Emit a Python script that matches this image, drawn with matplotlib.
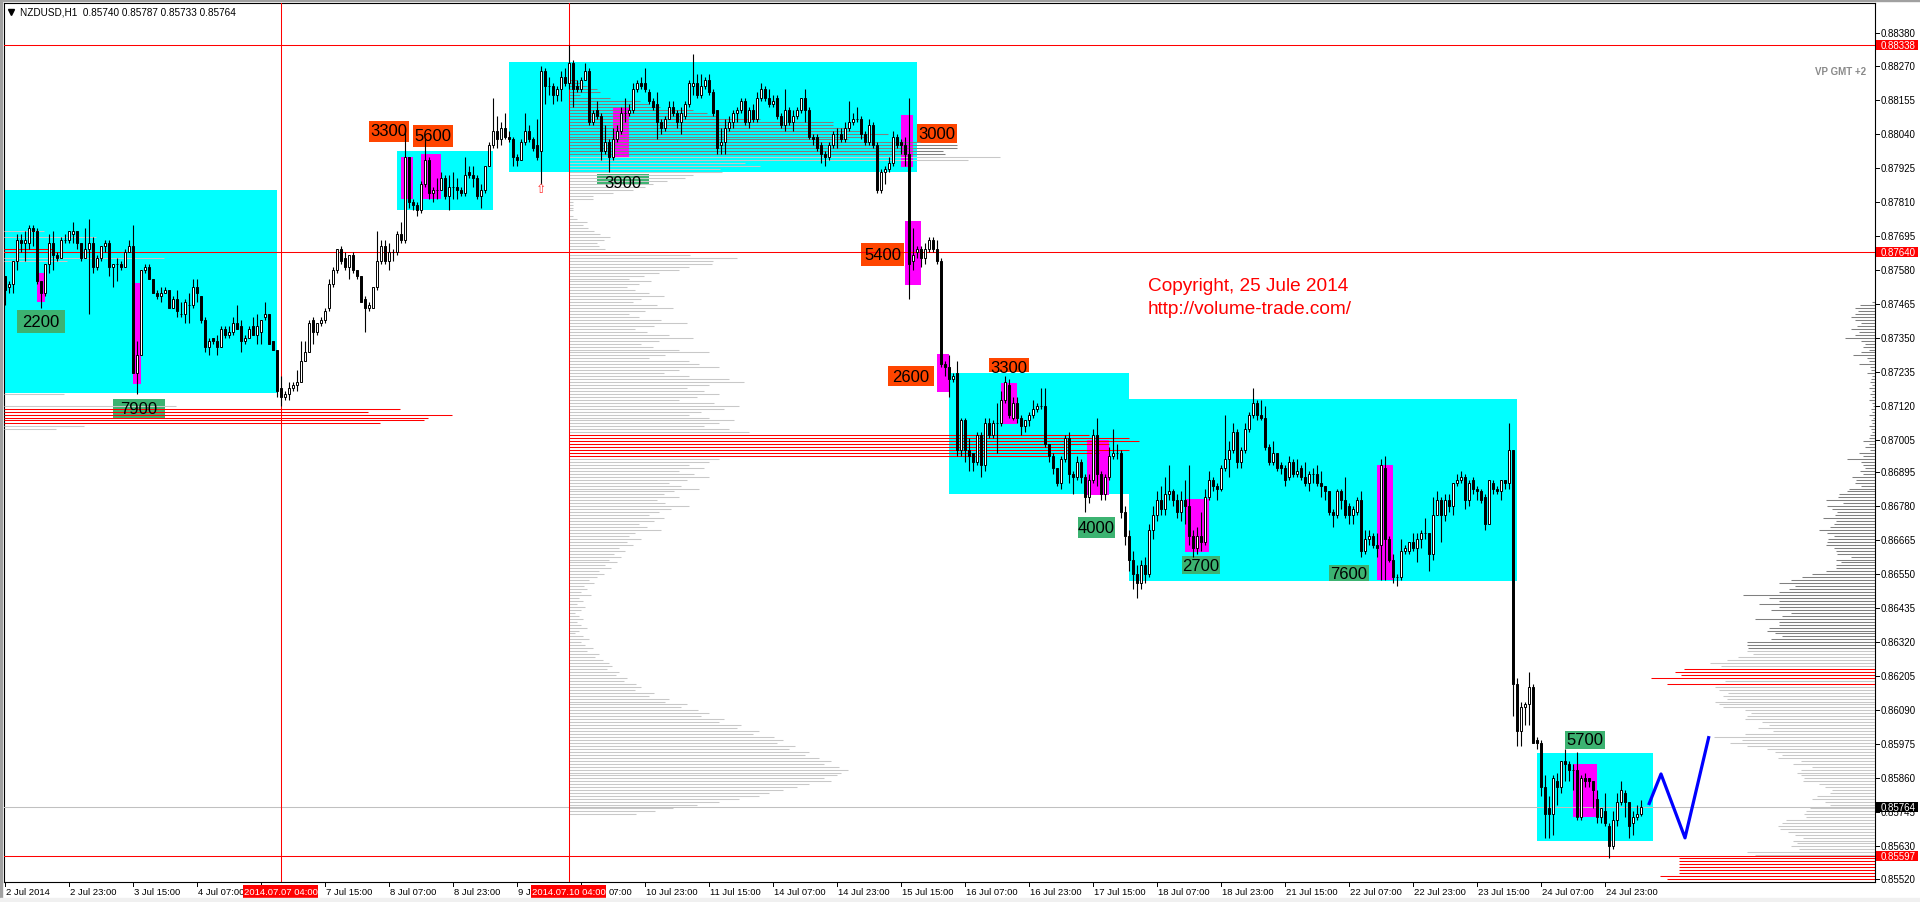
import matplotlib
matplotlib.use("Agg")
import matplotlib.pyplot as plt
from matplotlib.patches import Rectangle
import numpy as np

# ---------------- DATA (prices in pips, 1 pip = 0.0001) ----------------
title_text = "NZDUSD,H1  0.85740 0.85787 0.85733 0.85764"

open_p = [8756,8752,8753,8761,8768,8767,8767,8772,8771,8754,8750,8760,8767,8763,8762,8768,8768,8770,8771,8767,
8762,8765,8767,8759,8762,8766,8767,8759,8760,8760,8759,8764,8766,8723,8729,8758,8759,8755,8750,8749,
8750,8751,8745,8748,8743,8743,8746,8746,8752,8749,8741,8732,8735,8734,8732,8738,8736,8737,8740,8739,
8734,8735,8739,8736,8737,8742,8743,8734,8731,8718,8715,8716,8718,8719,8720,8727,8730,8741,8737,8740,
8741,8745,8753,8758,8765,8762,8759,8763,8758,8756,8748,8745,8745,8752,8761,8766,8761,8764,8764,8770,
8768,8796,8781,8780,8778,8787,8795,8784,8785,8785,8789,8783,8786,8786,8785,8784,8791,8790,8789,8783,
8785,8793,8800,8805,8802,8806,8803,8802,8796,8795,8801,8805,8802,8800,8798,8825,8820,8820,8817,8819,
8823,8821,8828,8820,8819,8822,8825,8808,8812,8810,8798,8801,8796,8802,8805,8811,8811,8812,8819,8821,
8821,8818,8815,8814,8808,8806,8809,8813,8811,8808,8810,8814,8820,8821,8817,8820,8822,8818,8812,8800,
8801,8806,8808,8811,8812,8815,8808,8812,8809,8816,8819,8816,8814,8816,8810,8807,8812,8808,8810,8812,
8816,8812,8803,8803,8800,8797,8796,8800,8804,8804,8802,8806,8808,8809,8809,8804,8801,8807,8800,8785,
8791,8792,8794,8803,8801,8800,8797,8761,8764,8765,8762,8765,8768,8765,8761,8726,8725,8721,8723,8697,
8707,8697,8696,8693,8702,8692,8706,8702,8706,8706,8714,8719,8708,8713,8708,8705,8707,8709,8711,8712,
8712,8699,8695,8691,8686,8694,8701,8689,8688,8693,8688,8681,8687,8702,8689,8682,8688,8695,8696,8696,
8676,8668,8660,8655,8652,8658,8655,8670,8675,8680,8677,8682,8683,8680,8676,8680,8678,8668,8664,8668,
8666,8681,8687,8685,8684,8691,8694,8697,8703,8693,8697,8704,8709,8713,8709,8708,8698,8693,8696,8692,
8691,8688,8693,8689,8691,8688,8686,8689,8689,8686,8685,8683,8676,8675,8683,8680,8678,8675,8676,8680,
8663,8667,8668,8665,8665,8691,8667,8660,8654,8654,8663,8663,8666,8664,8667,8669,8669,8662,8675,8680,
8675,8680,8678,8686,8687,8688,8680,8687,8684,8683,8681,8672,8686,8684,8683,8687,8686,8697,8618,8602,
8610,8611,8617,8599,8598,8583,8576,8574,8585,8583,8592,8591,8589,8589,8573,8586,8586,8585,8579,8573,
8575,8570,8563,8572,8578,8581,8578,8571,8573,8574.0]
high_p = [8756,8754,8761,8770,8770,8771,8773,8773,8772,8754,8760,8770,8771,8764,8769,8770,8771,8774,8771,8767,
8772,8775,8769,8763,8766,8768,8768,8760,8762,8761,8765,8768,8773,8734,8758,8760,8760,8755,8751,8752,
8752,8751,8749,8751,8747,8748,8750,8755,8755,8749,8742,8735,8735,8736,8739,8739,8739,8742,8746,8741,
8736,8739,8742,8743,8741,8747,8743,8734,8731,8722,8717,8720,8720,8724,8734,8734,8741,8742,8740,8742,
8745,8755,8759,8765,8766,8764,8763,8764,8758,8756,8749,8747,8752,8771,8768,8768,8767,8765,8771,8774,
8805,8796,8782,8781,8788,8802,8796,8786,8789,8791,8790,8790,8791,8789,8786,8796,8793,8793,8790,8787,
8793,8801,8816,8810,8808,8811,8805,8803,8797,8802,8811,8807,8803,8809,8827,8826,8823,8821,8820,8825,
8826,8834,8829,8822,8823,8828,8826,8812,8815,8811,8807,8802,8806,8807,8813,8816,8814,8821,8822,8823,
8826,8819,8816,8818,8809,8810,8815,8815,8812,8813,8815,8822,8831,8824,8824,8823,8824,8819,8812,8806,
8809,8810,8812,8813,8816,8816,8813,8814,8818,8821,8820,8819,8817,8817,8811,8819,8813,8812,8813,8816,
8819,8813,8804,8804,8801,8798,8801,8805,8806,8806,8808,8815,8811,8813,8810,8805,8809,8808,8801,8792,
8793,8796,8805,8804,8802,8803,8816,8772,8766,8766,8767,8769,8769,8768,8762,8727,8729,8723,8727,8708,
8708,8701,8696,8703,8703,8708,8708,8707,8713,8717,8722,8721,8715,8715,8709,8707,8710,8714,8713,8718,
8718,8699,8696,8691,8695,8702,8703,8690,8695,8694,8689,8689,8704,8708,8690,8689,8698,8704,8699,8697,
8678,8670,8663,8658,8660,8661,8672,8678,8683,8685,8688,8692,8684,8682,8683,8687,8692,8670,8671,8676,
8684,8690,8688,8686,8692,8709,8700,8706,8704,8698,8706,8710,8718,8714,8714,8712,8699,8700,8696,8693,
8692,8695,8694,8694,8692,8693,8690,8691,8692,8690,8685,8683,8677,8684,8684,8688,8679,8678,8681,8683,
8670,8670,8669,8669,8694,8695,8668,8662,8655,8667,8665,8666,8669,8669,8670,8674,8669,8681,8683,8681,
8682,8682,8686,8689,8690,8689,8687,8688,8685,8684,8682,8687,8687,8685,8687,8687,8706,8697,8620,8612,
8612,8622,8618,8600,8599,8587,8580,8587,8588,8592,8596,8592,8591,8595,8587,8588,8586,8585,8582,8576,
8581,8571,8575,8581,8585,8582,8578,8575,8577,8578.7]
low_p = [8746,8750,8750,8758,8764,8761,8765,8766,8753,8745,8749,8757,8758,8761,8762,8767,8767,8767,8765,8761,
8762,8743,8757,8758,8761,8764,8756,8752,8754,8758,8759,8764,8723,8716,8729,8757,8755,8750,8748,8747,
8750,8745,8745,8742,8742,8740,8740,8745,8747,8740,8730,8729,8733,8729,8732,8735,8735,8736,8738,8730,
8733,8735,8736,8733,8733,8741,8733,8731,8715,8712,8714,8714,8717,8717,8720,8727,8730,8733,8736,8739,
8740,8744,8752,8757,8760,8758,8755,8757,8755,8747,8737,8744,8745,8751,8760,8760,8758,8761,8763,8767,
8767,8779,8778,8776,8777,8786,8782,8781,8782,8785,8782,8778,8782,8782,8783,8783,8789,8786,8782,8779,
8784,8793,8799,8799,8800,8802,8801,8793,8793,8795,8800,8801,8798,8795,8787,8814,8817,8814,8815,8815,
8820,8819,8813,8818,8818,8822,8807,8807,8809,8795,8797,8791,8795,8801,8804,8808,8810,8811,8818,8819,
8818,8814,8812,8802,8804,8805,8809,8810,8806,8804,8809,8813,8817,8816,8816,8819,8817,8810,8797,8797,
8797,8805,8806,8808,8811,8807,8806,8808,8808,8815,8815,8813,8813,8809,8806,8805,8807,8805,8809,8811,
8808,8802,8800,8798,8794,8793,8795,8799,8799,8801,8801,8805,8807,8808,8802,8800,8800,8799,8784,8784,
8787,8791,8793,8799,8797,8793,8748,8758,8762,8759,8760,8764,8764,8760,8725,8722,8715,8720,8695,8695,
8693,8690,8690,8692,8688,8690,8701,8701,8696,8705,8713,8708,8707,8706,8702,8703,8705,8708,8710,8711,
8698,8693,8689,8685,8684,8693,8686,8682,8687,8686,8676,8679,8686,8685,8680,8680,8687,8694,8694,8674,
8665,8656,8650,8647,8650,8652,8654,8667,8673,8675,8675,8680,8678,8674,8673,8672,8665,8661,8662,8663,
8665,8680,8683,8680,8683,8690,8688,8696,8691,8691,8696,8703,8708,8707,8707,8697,8692,8692,8690,8689,
8685,8687,8688,8688,8687,8685,8683,8686,8685,8681,8680,8675,8671,8674,8677,8674,8672,8672,8675,8661,
8662,8665,8664,8661,8653,8653,8659,8652,8651,8653,8662,8662,8663,8659,8664,8667,8656,8660,8675,8666,
8673,8676,8675,8685,8686,8677,8678,8682,8680,8679,8670,8672,8682,8682,8680,8684,8684,8607,8597,8597,
8604,8604,8598,8596,8580,8566,8566,8567,8577,8581,8585,8585,8582,8572,8572,8583,8583,8576,8571,8571,
8570,8559,8562,8570,8577,8573,8566,8567,8572,8573.3]
close_p = [8751,8753,8761,8768,8767,8768,8772,8771,8754,8750,8760,8767,8763,8762,8768,8768,8771,8771,8767,8762,
8765,8767,8759,8762,8766,8767,8759,8760,8760,8759,8764,8766,8723,8729,8758,8759,8755,8750,8749,8750,
8751,8745,8748,8744,8743,8747,8746,8752,8750,8741,8732,8734,8734,8732,8738,8736,8737,8740,8738,8734,
8735,8738,8736,8739,8741,8743,8733,8731,8717,8715,8716,8718,8719,8720,8727,8730,8740,8737,8740,8741,
8744,8753,8758,8765,8761,8759,8763,8758,8756,8747,8745,8746,8752,8761,8766,8761,8764,8764,8770,8768,
8796,8781,8780,8778,8787,8795,8784,8785,8785,8789,8783,8786,8786,8785,8784,8790,8790,8789,8783,8785,
8793,8800,8805,8802,8806,8803,8802,8796,8795,8801,8805,8802,8799,8796,8825,8820,8820,8817,8819,8823,
8821,8828,8819,8819,8822,8825,8808,8811,8810,8798,8801,8796,8802,8805,8811,8811,8812,8819,8821,8820,
8819,8815,8813,8808,8806,8809,8813,8811,8808,8811,8814,8821,8821,8817,8820,8822,8818,8811,8799,8801,
8806,8808,8811,8812,8815,8808,8812,8809,8816,8819,8816,8814,8815,8810,8807,8812,8808,8810,8812,8816,
8812,8803,8802,8799,8797,8796,8800,8804,8804,8802,8806,8808,8809,8809,8804,8801,8807,8800,8785,8791,
8792,8794,8803,8800,8800,8797,8760,8763,8765,8762,8765,8768,8765,8761,8726,8725,8721,8722,8697,8707,
8697,8695,8693,8702,8692,8706,8702,8706,8706,8714,8720,8709,8713,8708,8705,8707,8709,8711,8712,8712,
8699,8695,8691,8686,8694,8701,8689,8688,8693,8688,8681,8687,8702,8689,8682,8688,8695,8696,8696,8676,
8668,8660,8655,8652,8658,8655,8670,8675,8680,8677,8682,8683,8680,8676,8680,8678,8668,8664,8668,8666,
8681,8687,8685,8684,8691,8694,8697,8703,8693,8697,8704,8709,8713,8709,8708,8698,8693,8696,8691,8691,
8687,8693,8689,8690,8688,8686,8689,8689,8686,8685,8683,8676,8675,8683,8680,8675,8675,8677,8680,8663,
8667,8668,8665,8664,8692,8667,8660,8654,8654,8663,8664,8666,8664,8667,8669,8669,8662,8675,8680,8675,
8680,8678,8686,8687,8688,8680,8686,8684,8683,8680,8672,8687,8684,8683,8687,8686,8697,8618,8602,8610,
8611,8617,8598,8598,8583,8574,8574,8586,8583,8592,8591,8589,8589,8573,8586,8585,8585,8582,8573,8576,
8571,8563,8572,8578,8582,8578,8570,8573,8574,8576.4]

# time axis labels (bar index, visible text)
time_labels = [(0, "2 Jul 2014"), (16, "2 Jul 23:00"), (32, "3 Jul 15:00"), (48, "4 Jul 07:00"),
               (80, "7 Jul 15:00"), (96, "8 Jul 07:00"), (112, "8 Jul 23:00"),
               (128, "9 J"), (160, "10 Jul 23:00"), (176, "11 Jul 15:00"),
               (192, "14 Jul 07:00"), (208, "14 Jul 23:00"), (224, "15 Jul 15:00"), (240, "16 Jul 07:00"),
               (256, "16 Jul 23:00"), (272, "17 Jul 15:00"), (288, "18 Jul 07:00"), (304, "18 Jul 23:00"),
               (320, "21 Jul 15:00"), (336, "22 Jul 07:00"), (352, "22 Jul 23:00"), (368, "23 Jul 15:00"),
               (384, "24 Jul 07:00"), (400, "24 Jul 23:00")]
hidden_ticks = [64, 144]
partial_label = (150.9, "07:00")   # tail of "10 Jul 07:00" visible right of the red time box
price_labels = [0.88380, 0.88270, 0.88155, 0.88040, 0.87925, 0.87810, 0.87695, 0.87580, 0.87465,
                0.87350, 0.87235, 0.87120, 0.87005, 0.86895, 0.86780, 0.86665, 0.86550, 0.86435,
                0.86320, 0.86205, 0.86090, 0.85975, 0.85860, 0.85745, 0.85630, 0.85520]

# vertical lines (bar index, label)
vlines_data = [(69, "2014.07.07 04:00"), (141, "2014.07.10 04:00")]
# horizontal lines
red_levels = [0.88338, 0.87640, 0.85597]
bid_level = 0.85764

# zones: (bar_from, bar_to, price_top, price_bottom) in pips
cyan_zones = [(-2, 67.9, 8784.9, 8716.4), (98, 121.9, 8798.1, 8778.3), (126, 228, 8828.3, 8791.1),
              (236, 281, 8723.1, 8682.1), (281, 378, 8714.3, 8652.8), (383, 412, 8594.5, 8564.9)]
magenta_zones = [(8, 10, 8756.9, 8747.2), (32, 34, 8753.5, 8719.4), (99, 102.1, 8796.2, 8781.9),
                 (104, 108.9, 8797.1, 8781.9), (152.1, 156, 8812.9, 8795.7), (224, 227, 8810.3, 8792.8),
                 (225, 228.9, 8774.5, 8752.9), (233, 236, 8729.5, 8716.7), (249, 253, 8719.7, 8705.8),
                 (270.5, 276, 8700.4, 8681.8), (295, 301, 8680.6, 8662.4), (343, 347, 8692.1, 8653.2),
                 (392, 398, 8591.0, 8573.1)]
# volume labels: (text, bar_from, bar_to, top, bottom, text_price, kind)
vol_labels = [("2200", 3, 15, 8744.4, 8736.7, 8740.6, "g"), ("7900", 27, 40, 8714.3, 8707.8, 8711.0, "g"),
              ("3300", 91, 101, 8808.4, 8801.3, 8804.9, "o"), ("5600", 102, 112, 8806.9, 8799.6, 8803.2, "o"),
              ("3900", 148, 161, 8790.4, 8786.8, 8787.6, "g"), ("3000", 228, 237.9, 8807.2, 8800.8, 8804.0, "o"),
              ("5400", 214, 224.75, 8767.0, 8759.3, 8763.1, "o"), ("2600", 220.75, 232.25, 8725.4, 8718.7, 8722.0, "o"),
              ("3300", 246, 256, 8728.1, 8723.5, 8724.8, "o"), ("4000", 268.2, 277.6, 8674.4, 8667.3, 8670.8, "g"),
              ("2700", 294.2, 303.7, 8661.2, 8655.0, 8658.1, "g"), ("7600", 331, 341, 8658.0, 8652.9, 8655.4, "g"),
              ("5700", 390, 400, 8602.1, 8596.1, 8599.1, "g")]

# forecast zig-zag (bar, price pips)
zig_bars = [410.9, 414.0, 420.0, 426.0]
zig_price = [8577.0, 8587.5, 8565.9, 8600.3]

# volume profiles: top level (pips) and volumes per 1-pip level going down
left_prof_top = 8771
left_prof = [40, 0, 92, 0, 0, 0, 50, 184, 0, 160, 63]
left_prof_red = [8765]
left_prof2_top = 8716
left_prof2 = [60, 0, 0, 0, 172, 396, 364, 448, 424, 420, 376, 80, 52]
left_prof2_red = [8711, 8710, 8709, 8708, 8707, 8706]

mid_prof_top = 8822
mid_prof = [8, 14, 18, 28, 31, 11, 41, 71, 80, 91, 124, 138, 148, 191, 264, 264, 281, 291, 319, 298,
            279, 351, 388, 388, 374, 376, 431, 399, 176, 191, 151, 153, 124, 116, 98, 84, 76, 64, 44, 24,
            24, 4, 4, 4, 4, 0, 4, 8, 18, 14, 19, 25, 31, 41, 35, 28, 30, 36, 99, 121,
            168, 144, 143,
            120, 110, 90, 75, 60, 82, 70, 58, 66, 80, 95, 72, 64, 88, 104, 76, 60, 70, 92, 118,
            85, 66, 78, 100, 124, 90, 72, 84, 110, 140, 96, 80, 120, 130,
            150, 110, 95, 120, 160, 175, 140, 118, 135, 150, 128, 110, 145, 170, 155, 132, 120, 140, 165, 150,
            135, 160, 180,
            520, 560, 570, 540, 500, 560, 530, 480,
            150, 140, 120, 135, 110, 125, 140, 118, 100, 112, 130, 105, 95, 110, 88, 96, 120, 102, 90, 80,
            95, 85, 70, 78, 92, 66, 60, 72, 58, 64, 50, 56, 45, 52, 40, 48, 36, 42, 30, 35,
            28, 20, 25, 15, 18, 12, 22, 10, 14, 8, 16, 12, 6, 10, 14, 8, 12, 18, 10, 6,
            14, 20, 12, 16, 24, 18, 30, 26, 34, 40,
            43, 38, 50, 47, 58, 55, 67, 72, 66, 85, 80, 100, 96, 118, 112, 129, 140, 132, 155, 150,
            172, 168, 190, 184, 205, 214, 208, 226, 220, 240, 236, 250, 262, 255, 270, 279, 272, 268, 255, 262,
            240, 228, 214, 200, 190, 170, 150, 128, 104, 86, 67]
mid_prof_dark_min = 8797
mid_prof_red = [8702, 8701, 8700, 8699, 8698, 8697, 8696, 8695]

right_prof_top = 8747
right_prof = [3, 15, 20, 17, 20, 24, 20, 14, 18, 24, 16, 20, 30, 14, 10, 12, 6, 14, 22, 8,
              6, 16, 5, 4, 8, 3, 4, 5, 3, 6, 3, 5, 3, 6, 3, 2, 4, 3, 6, 2,
              4, 3, 6, 4, 3, 5, 6, 12, 6, 10,
              5, 16, 12, 28, 14, 12, 10, 15, 12, 23, 19, 20, 14, 26, 28, 36, 37, 49, 32, 48,
              43, 38, 40, 52, 39, 41, 45, 56, 48, 41, 47, 48, 49, 41, 39, 38, 24, 39, 34, 39,
              39, 49, 63, 73, 84, 96, 80, 86, 96, 132, 106, 96, 116, 96, 104, 84, 93, 120, 96, 96,
              106, 108, 100, 93, 104, 128, 128, 127, 128, 122, 137, 148, 165, 154, 191, 200, 194, 224, 150, 208,
              160, 156, 147, 152, 148, 160, 156, 152, 130, 124, 128, 130, 113, 106, 117, 102, 130, 161, 133, 145,
              128, 108, 100, 93, 97, 74, 82, 63, 74, 78, 74, 71, 72, 56, 50, 43, 45, 58, 63, 50,
              45, 65, 69, 71, 69, 89, 93, 97, 95, 87, 80, 72, 82, 78, 84, 76, 128, 120, 196, 196,
              196, 196, 196, 196, 215, 208]
right_prof_dark_min = 8630
right_prof_red = [8623, 8622, 8621, 8620, 8618, 8559, 8558, 8557, 8556, 8555, 8554, 8553, 8552]

# ---------------- FIGURE ----------------
W, H = 1920, 903
PX_L, PX_R, PX_T, PX_B = 4, 1875, 4, 883
X0, XSTEP = 5.0, 4.0                  # pixel of bar 0, pixels per bar
P_REF, P_REF_Y, PX_PER_PRICE = 0.88380, 34.0, 29580.0

def bx(px):
    return (px - X0) / XSTEP

def py(pix):
    return P_REF - (pix - P_REF_Y) / PX_PER_PRICE

FONT = ["Liberation Sans", "DejaVu Sans"]
plt.rcParams["font.family"] = FONT

fig = plt.figure(figsize=(W / 100, H / 100), dpi=100)
fig.patch.set_facecolor("white")
ax = fig.add_axes([PX_L / W, 1 - PX_B / H, (PX_R - PX_L) / W, (PX_B - PX_T) / H])
ax.set_facecolor("white")
xmin, xmax = bx(PX_L), bx(PX_R)
ymin, ymax = py(PX_B), py(PX_T)
ax.set_xlim(xmin, xmax)
ax.set_ylim(ymin, ymax)
ax.set_xticks([])
ax.set_yticks([])
for s in ax.spines.values():
    s.set_color("black")
    s.set_linewidth(0.8)

# window chrome
fig.patches.append(Rectangle((0, 1 - 2 / H), 1, 2 / H, transform=fig.transFigure, color="#a0a0a0", zorder=0))
fig.patches.append(Rectangle((0, 0), 2 / W, 1, transform=fig.transFigure, color="#a0a0a0", zorder=0))
fig.patches.append(Rectangle((0, 0), 1, 4 / H, transform=fig.transFigure, color="#f0f0f0", zorder=0))

P = 1e-4
for b0, b1, t, bt in cyan_zones:
    ax.add_patch(Rectangle((b0, bt * P), b1 - b0, (t - bt) * P, facecolor="#00ffff", edgecolor="none", zorder=1))
for b0, b1, t, bt in magenta_zones:
    ax.add_patch(Rectangle((b0, bt * P), b1 - b0, (t - bt) * P, facecolor="#ff00ff", edgecolor="none", zorder=2))

# volume labels
for txt, b0, b1, t, bt, tp, kind in vol_labels:
    col = "#3cb371" if kind == "g" else "#ff4500"
    ax.add_patch(Rectangle((b0, bt * P), b1 - b0, (t - bt) * P, facecolor=col, edgecolor="none", zorder=3))
    ax.text((b0 + b1) / 2, tp * P, txt, fontsize=12, color="black", ha="center", va="center", zorder=4.6)

# profiles
LW = 0.75
def draw_profile(top, vols, anchor, direction, red, dark_min=None, default_col="#c8c8c8"):
    for i, v in enumerate(vols):
        if v <= 0:
            continue
        lvl = top - i
        if lvl in red:
            col = "#ff0000"
        elif dark_min is not None and lvl >= dark_min:
            col = "#808080"
        else:
            col = default_col
        x1 = anchor + direction * v / XSTEP
        ax.hlines(lvl * P, min(anchor, x1), max(anchor, x1), colors=col, lw=LW, zorder=4)

draw_profile(left_prof_top, left_prof, xmin, 1, left_prof_red)
draw_profile(left_prof2_top, left_prof2, xmin, 1, left_prof2_red)
draw_profile(mid_prof_top, mid_prof, 141, 1, mid_prof_red, dark_min=mid_prof_dark_min)
draw_profile(right_prof_top, right_prof, xmax, -1, right_prof_red, dark_min=right_prof_dark_min)

# horizontal / vertical lines
ax.axhline(bid_level, color="#c0c0c0", lw=LW, zorder=4.5)
for lv in red_levels:
    ax.axhline(lv, color="#ff0000", lw=LW, zorder=4.5)
for b, _ in vlines_data:
    ax.axvline(b, color="#ff0000", lw=LW, zorder=4.5)

# candles
o = np.array(open_p) * P
h = np.array(high_p) * P
l = np.array(low_p) * P
c = np.array(close_p) * P
x = np.arange(len(o))
ax.vlines(x, l, h, colors="black", lw=0.8, zorder=5)
up = c >= o
body = np.abs(c - o)
ax.bar(x[up], body[up], bottom=o[up], width=0.55, facecolor="white", edgecolor="black", linewidth=0.7, zorder=6)
ax.bar(x[~up], body[~up], bottom=c[~up], width=0.55, facecolor="black", edgecolor="black", linewidth=0.7, zorder=6)

# signal arrow
ax.text(134, 8785.3 * P, "\u21e7", color="#ff3030", fontsize=9, ha="center", va="center", zorder=7,
        family=["DejaVu Sans"])

# zig-zag forecast
ax.plot(zig_bars, np.array(zig_price) * P, color="#0000ff", lw=2.3, zorder=7, solid_capstyle="butt")

# texts
ax.text(bx(1148), py(286.5), "Copyright, 25 Jule 2014", color="#ff0000", fontsize=13.7, ha="left", va="center", zorder=8)
ax.text(bx(1148), py(310), "http://volume-trade.com/", color="#ff0000", fontsize=13.7, ha="left", va="center", zorder=8)
ax.text(bx(1866), py(72), "VP GMT +2", color="#8a8a8a", fontsize=7, fontweight="bold", ha="right", va="center", zorder=8)
ax.text(bx(20), py(13), title_text, color="black", fontsize=7.2, ha="left", va="center", zorder=8)
ax.plot([bx(11)], [py(12.5)], marker="v", color="black", markersize=4.5, zorder=8, clip_on=False)

# right price axis
AX_FS = 7
for p in price_labels:
    ax.plot([xmax, bx(1879)], [p, p], color="black", lw=0.7, clip_on=False)
    ax.text(bx(1881), p, "%.5f" % p, fontsize=AX_FS, color="black", ha="left", va="center", clip_on=False)
for lv, bg in [(red_levels[0], "#ff0000"), (red_levels[1], "#ff0000"), (red_levels[2], "#ff0000"), (bid_level, "black")]:
    ax.add_patch(Rectangle((bx(1876.5), lv - 5 / PX_PER_PRICE), (1918 - 1876.5) / XSTEP, 10 / PX_PER_PRICE,
                           facecolor=bg, edgecolor="none", clip_on=False, zorder=9))
    ax.text(bx(1881), lv, "%.5f" % lv, fontsize=AX_FS, color="white", ha="left", va="center", clip_on=False, zorder=10)

# bottom time axis
for b, txt in time_labels:
    ax.plot([b, b], [ymin, py(887)], color="black", lw=0.7, clip_on=False)
    ax.text(b + 0.3, py(893), txt, fontsize=6.8, color="black", ha="left", va="center", clip_on=False)
for b in hidden_ticks:
    ax.plot([b, b], [ymin, py(887)], color="black", lw=0.7, clip_on=False)
ax.text(partial_label[0], py(893), partial_label[1], fontsize=6.8, color="black", ha="left", va="center", clip_on=False)
for b, txt in vlines_data:
    ax.add_patch(Rectangle((b - 37.5 / XSTEP, py(899)), 75 / XSTEP, 12.5 / PX_PER_PRICE,
                           facecolor="#ff0000", edgecolor="none", clip_on=False, zorder=9))
    ax.text(b, py(893), txt, fontsize=6.8, color="white", ha="center", va="center", clip_on=False, zorder=10)

fig.savefig("out.png", dpi=100, facecolor="white")
